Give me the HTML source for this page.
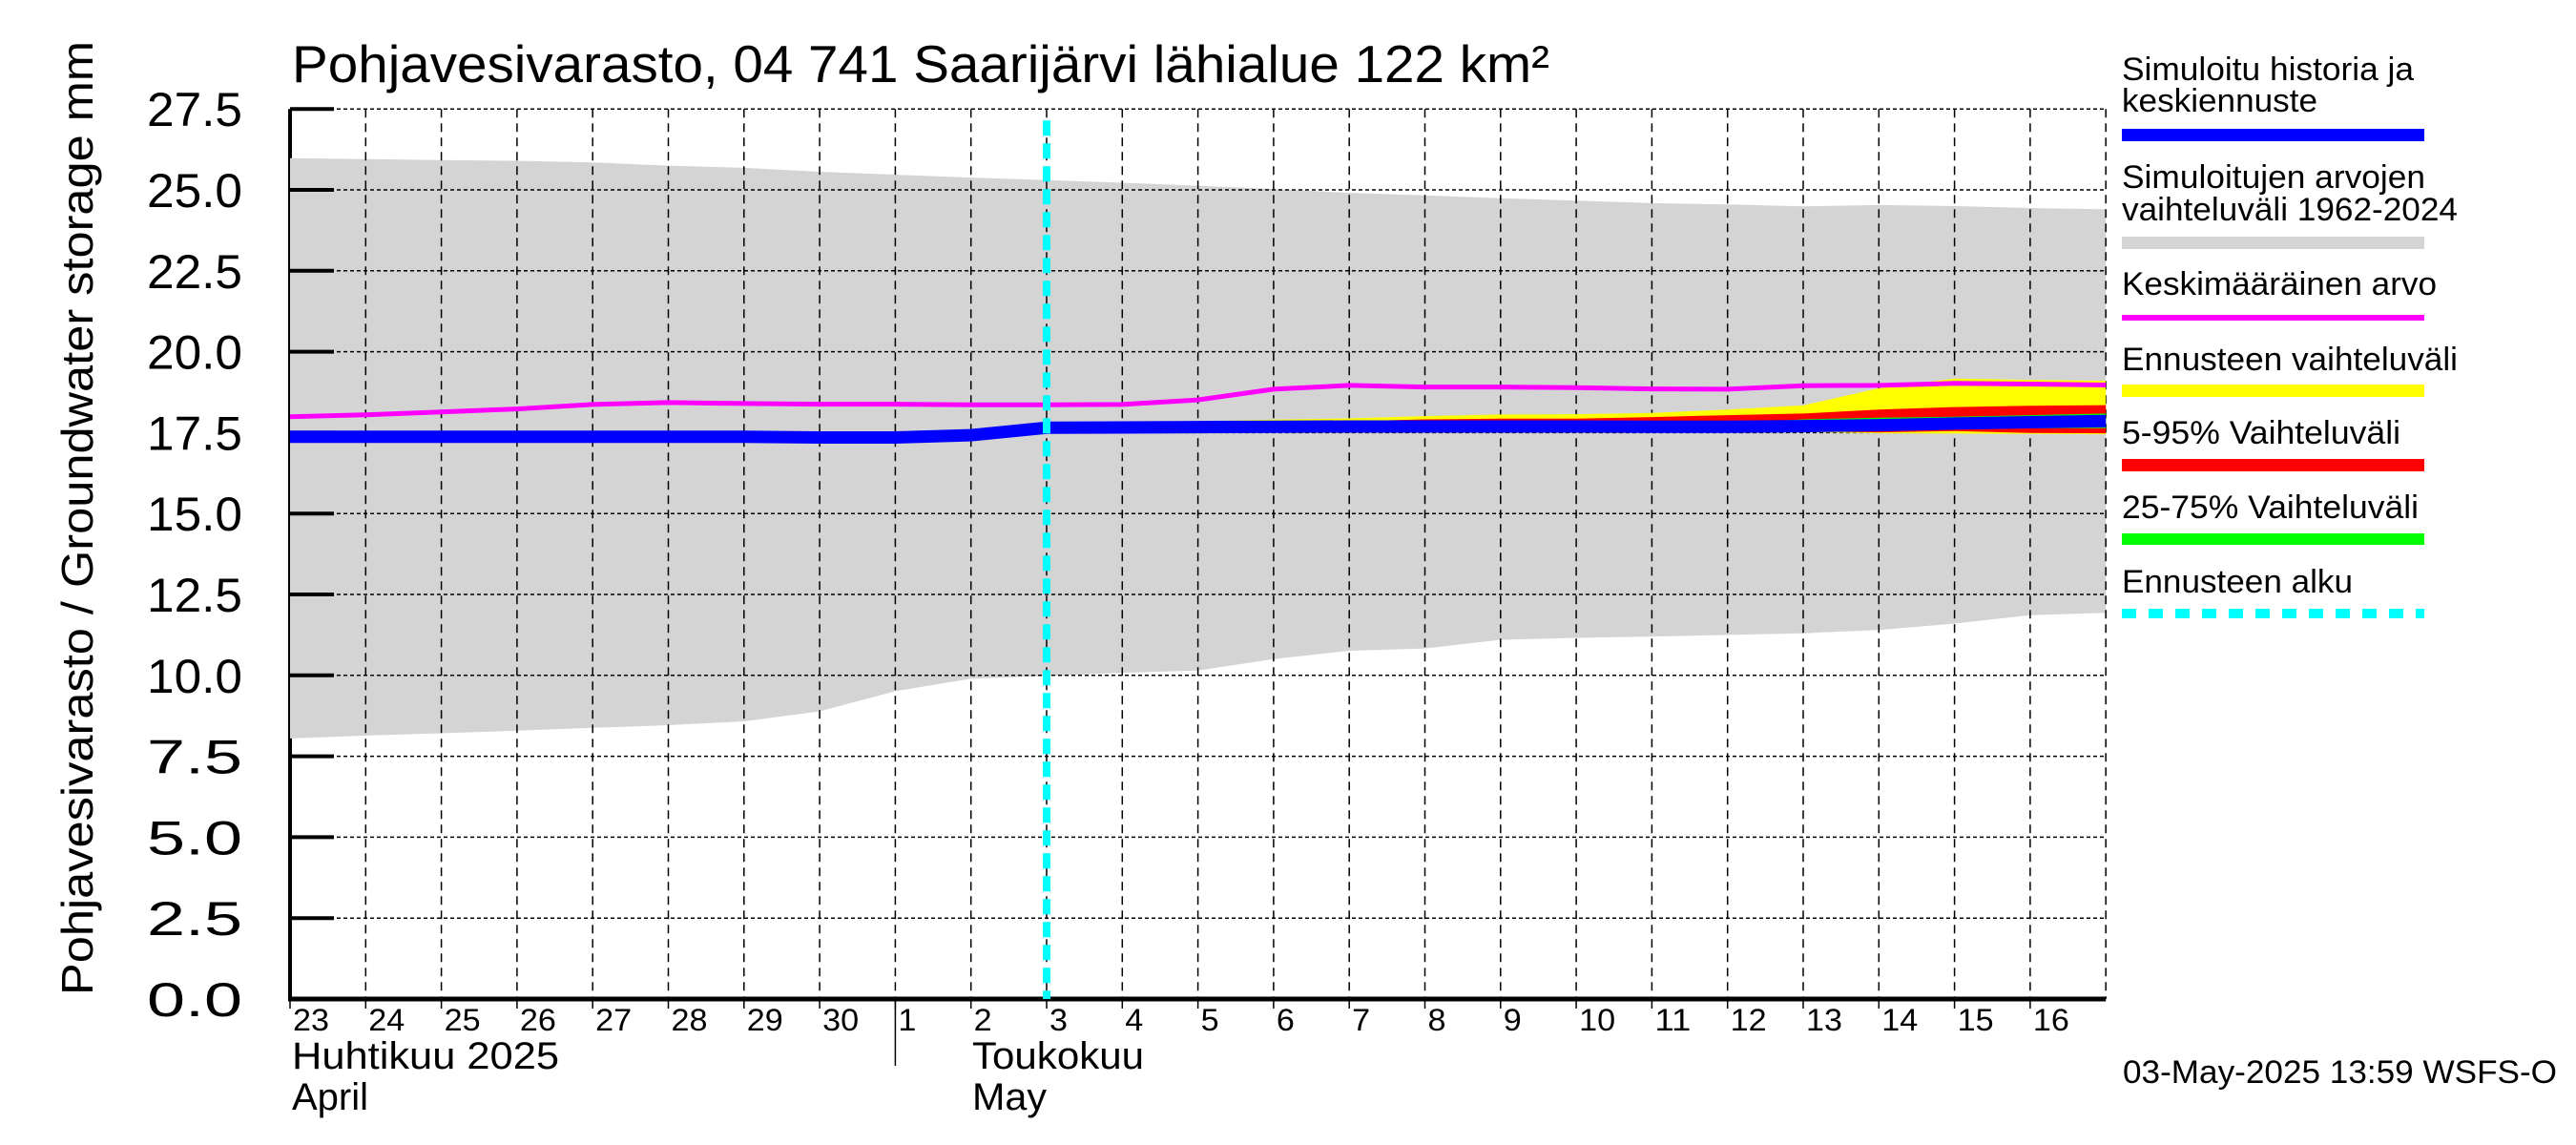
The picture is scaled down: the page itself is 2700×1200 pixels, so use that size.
<!DOCTYPE html>
<html><head><meta charset="utf-8"><title>Pohjavesivarasto</title>
<style>html,body{margin:0;padding:0;background:#fff;}svg{display:block;font-family:"Liberation Sans",sans-serif;}</style>
</head><body>
<svg id="chart" width="2700" height="1200" viewBox="0 0 2700 1200" xmlns="http://www.w3.org/2000/svg">
<rect x="0" y="0" width="2700" height="1200" fill="#fff"/>
<g id="plot"></g>
<text x="306" y="86" font-size="55" textLength="1318" lengthAdjust="spacingAndGlyphs">Pohjavesivarasto, 04 741 Saarijärvi lähialue 122 km²</text>
<text transform="translate(97,543) rotate(-90)" text-anchor="middle" font-size="46" textLength="1000" lengthAdjust="spacingAndGlyphs">Pohjavesivarasto / Groundwater storage   mm</text>
<g font-size="34">
<text x="2224" y="84" textLength="306" lengthAdjust="spacingAndGlyphs">Simuloitu historia ja</text>
<text x="2224" y="117" textLength="205" lengthAdjust="spacingAndGlyphs">keskiennuste</text>
<rect x="2224" y="135" width="317" height="13" fill="#0000ff"/>
<text x="2224" y="197" textLength="318" lengthAdjust="spacingAndGlyphs">Simuloitujen arvojen</text>
<text x="2224" y="231" textLength="352" lengthAdjust="spacingAndGlyphs">vaihteluväli 1962-2024</text>
<rect x="2224" y="248" width="317" height="13" fill="#d4d4d4"/>
<text x="2224" y="309" textLength="330" lengthAdjust="spacingAndGlyphs">Keskimääräinen arvo</text>
<rect x="2224" y="330" width="317" height="6" fill="#ff00ff"/>
<text x="2224" y="388" textLength="352" lengthAdjust="spacingAndGlyphs">Ennusteen vaihteluväli</text>
<rect x="2224" y="403" width="317" height="13" fill="#ffff00"/>
<text x="2224" y="465" textLength="292" lengthAdjust="spacingAndGlyphs">5-95% Vaihteluväli</text>
<rect x="2224" y="481" width="317" height="13" fill="#ff0000"/>
<text x="2224" y="543" textLength="311" lengthAdjust="spacingAndGlyphs">25-75% Vaihteluväli</text>
<rect x="2224" y="559" width="317" height="12" fill="#00ff00"/>
<text x="2224" y="621" textLength="242" lengthAdjust="spacingAndGlyphs">Ennusteen alku</text>
<line x1="2224" y1="643" x2="2541" y2="643" stroke="#00ffff" stroke-width="10" stroke-dasharray="15 13"/>
</g>
<text x="2680" y="1135" text-anchor="end" font-size="34" textLength="455" lengthAdjust="spacingAndGlyphs">03-May-2025 13:59 WSFS-O</text>
</svg>
<script>
const dayLabels = ["23","24","25","26","27","28","29","30","1","2","3","4","5","6","7","8","9","10","11","12","13","14","15","16"];
const yTicks = [0,2.5,5,7.5,10,12.5,15,17.5,20,22.5,25,27.5];
const rangeMax = [25.98,25.95,25.92,25.9,25.85,25.75,25.68,25.56,25.47,25.38,25.3,25.22,25.13,25.03,24.91,24.83,24.74,24.67,24.59,24.55,24.49,24.53,24.5,24.44,24.4];
const rangeMin = [8.05,8.14,8.21,8.29,8.38,8.46,8.58,8.89,9.51,9.9,9.98,10.08,10.15,10.5,10.76,10.83,11.1,11.16,11.2,11.25,11.3,11.4,11.6,11.86,11.93];
const meanVals = [17.99,18.05,18.14,18.23,18.37,18.43,18.4,18.38,18.38,18.36,18.36,18.37,18.51,18.84,18.96,18.91,18.91,18.89,18.85,18.84,18.95,18.96,19.02,19.0,18.97];
const simVals = [17.37,17.37,17.37,17.37,17.37,17.37,17.37,17.35,17.35,17.42,17.65,17.66,17.67,17.68,17.69,17.69,17.69,17.69,17.68,17.68,17.7,17.73,17.78,17.82,17.86];
// forecast from day index 10 onward
const fcStart = 10;
const fcMax = [17.65,17.78,17.85,17.9,17.94,18.01,18.06,18.07,18.11,18.21,18.34,18.87,19.17,19.13,19.1];
const fcMin = [17.6,17.6,17.6,17.6,17.6,17.6,17.6,17.6,17.6,17.55,17.52,17.48,17.47,17.46,17.45];
const p95 = [17.65,17.7,17.75,17.8,17.85,17.91,17.93,17.93,17.98,18.04,18.09,18.21,18.29,18.33,18.35];
const p05 = [17.62,17.62,17.62,17.62,17.62,17.62,17.62,17.6,17.58,17.56,17.54,17.51,17.55,17.49,17.48];
const p75 = [17.65,17.66,17.67,17.68,17.69,17.69,17.69,17.7,17.72,17.78,17.91,17.96,17.99,18.04,18.09];
const p25 = [17.65,17.66,17.67,17.68,17.69,17.69,17.69,17.68,17.66,17.65,17.65,17.65,17.65,17.64,17.64];

const X0 = 304, DX = 79.3, Y0 = 1047, PY = 84.8/2.5;
function xs(d){ return X0 + d*DX; }
function ys(v){ return Y0 - v*PY; }
const NS = "http://www.w3.org/2000/svg";
const plot = document.getElementById('plot');
function mk(tag, attrs, parent){
  const e = document.createElementNS(NS, tag);
  for (const k in attrs) e.setAttribute(k, attrs[k]);
  (parent||plot).appendChild(e);
  return e;
}
function bandPath(upper, lower, start){
  let p = "";
  upper.forEach((v,i)=>{ p += (i? "L":"M") + xs(start+i).toFixed(1) + "," + ys(v).toFixed(1); });
  for (let i = lower.length-1; i >= 0; i--) p += "L" + xs(start+i).toFixed(1) + "," + ys(lower[i]).toFixed(1);
  return p + "Z";
}
function linePath(vals, start){
  return vals.map((v,i)=>(i? "L":"M") + xs(start+i).toFixed(1) + "," + ys(v).toFixed(1)).join("");
}
const nDays = dayLabels.length;
const xEnd = xs(nDays);

// left axis
let e = mk('line',{x1:X0,y1:ys(27.5),x2:X0,y2:Y0+1,stroke:'#000','stroke-width':4});



// gray historical range
e = mk('path',{d:bandPath(rangeMax, rangeMin, 0),fill:'#d4d4d4'});



// grid
yTicks.forEach(t=>{
  const g = mk('line',{x1:X0,y1:ys(t),x2:xEnd,y2:ys(t),stroke:'#000','stroke-width':1.5,'stroke-dasharray':'4 3'});
  
  
  const tk = mk('line',{x1:X0,y1:ys(t),x2:X0+46,y2:ys(t),stroke:'#000','stroke-width':4});
  
  
  const lb = mk('text',{x:254,y:ys(t)+18,'text-anchor':'end','font-size':50,textLength:100,lengthAdjust:'spacingAndGlyphs'});
  lb.textContent = t.toFixed(1);
  
  
});
for (let d = 1; d <= nDays; d++){
  const g = mk('line',{x1:xs(d),y1:ys(27.5),x2:xs(d),y2:Y0,stroke:'#000','stroke-width':1.5,'stroke-dasharray':'9 6'});
  
  
}
dayLabels.forEach((lab,d)=>{
  const tk = mk('line',{x1:xs(d),y1:Y0,x2:xs(d),y2:Y0+10,stroke:'#000','stroke-width':1.5});
  
  
  const t = mk('text',{x:xs(d)+3,y:1080,'font-size':32,textLength:lab.length*19,lengthAdjust:'spacingAndGlyphs'});
  t.textContent = lab;
  
  
});
e = mk('line',{x1:xs(8),y1:Y0,x2:xs(8),y2:1117,stroke:'#000','stroke-width':1.5});



// forecast bands
e = mk('path',{d:bandPath(fcMax, fcMin, fcStart),fill:'#ffff00'});


e = mk('path',{d:bandPath(p95, p05, fcStart),fill:'#ff0000'});


e = mk('path',{d:bandPath(p75, p25, fcStart),fill:'#00ff00'});



// mean line
e = mk('path',{d:linePath(meanVals,0),fill:'none',stroke:'#ff00ff','stroke-width':5});


// simulated line
e = mk('path',{d:linePath(simVals,0),fill:'none',stroke:'#0000ff','stroke-width':13});



// bottom axis
e = mk('line',{x1:X0-2,y1:Y0,x2:xEnd,y2:Y0,stroke:'#000','stroke-width':5});



// forecast start
e = mk('line',{x1:xs(fcStart),y1:ys(27.5)+12,x2:xs(fcStart),y2:Y0,stroke:'#00ffff','stroke-width':8,'stroke-dasharray':'16 8'});



// month labels
const monthLabels = [["Huhtikuu  2025",306,1120,280],["April",306,1163,80],["Toukokuu",1019,1120,180],["May",1019,1163,78]];
monthLabels.forEach(m=>{
  const t = mk('text',{x:m[1],y:m[2],'font-size':40,textLength:m[3],lengthAdjust:'spacingAndGlyphs'});
  t.textContent = m[0];
  
  
});
</script>
</body></html>
